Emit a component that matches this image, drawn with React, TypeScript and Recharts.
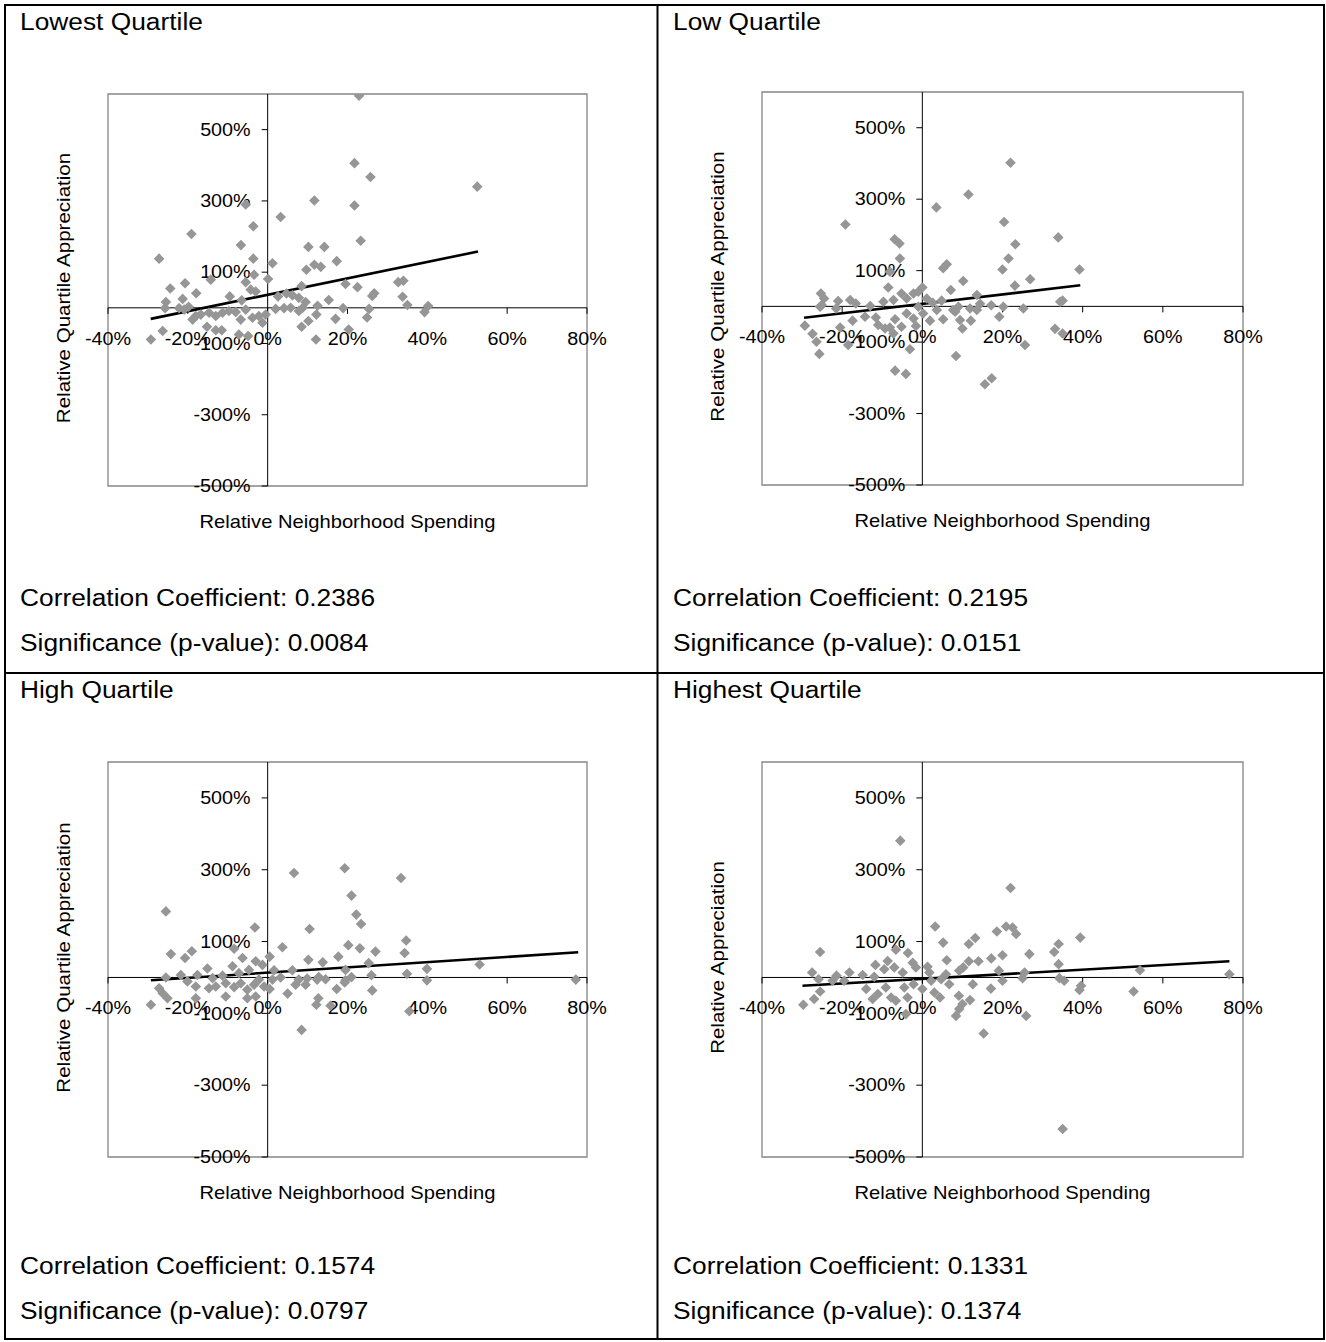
import React from "react";
import { ScatterChart, Scatter, XAxis, YAxis, ReferenceArea, ReferenceLine, ReferenceDot } from "recharts";

const FONT = '"Liberation Sans", Arial, sans-serif';

// axis ticks (percent)
const xTicks = [-40, -20, 0, 20, 40, 60, 80];
const yTicks = [-500, -300, -100, 100, 300, 500];

const titles = ["Lowest Quartile", "Low Quartile", "High Quartile", "Highest Quartile"];
const yTitles = ["Relative Quartile Appreciation", "Relative Quartile Appreciation", "Relative Quartile Appreciation", "Relative Appreciation"];
const corrs = ["0.2386", "0.2195", "0.1574", "0.1331"];
const pvals = ["0.0084", "0.0151", "0.0797", "0.1374"];

// [relative spending %, relative appreciation %]
const lowestPts: [number, number][] = [
  [22.9, 595], [21.75, 406], [25.75, 367], [52.5, 340], [11.7, 301], [21.75, 287], [-5.5, 290], [3.25, 255], [-3.6, 229],
  [-19.1, 207], [23.3, 188], [-6.7, 176], [10.2, 171], [14.2, 171], [-27.2, 138], [-3.6, 138], [17.3, 131], [1.2, 125],
  [11.7, 121], [13.3, 115], [9.7, 107], [-3.4, 93], [-14.25, 79], [0.1, 81], [-5.5, 72], [-20.7, 69], [-24.4, 54],
  [32.7, 72], [34, 76], [19.5, 67], [22.5, 58], [8.5, 61], [-4.25, 51], [-3, 46], [-17.9, 41], [26.7, 41], [26.2, 33],
  [33.8, 31], [-21.3, 25], [-25.5, 16], [-9.5, 32], [-6.5, 21], [2.6, 32], [4.7, 40], [6.2, 35], [7.8, 28], [15.3, 22],
  [12.5, 6], [9.5, 16], [35, 8], [40.2, 5], [39.3, -12], [18.9, -1], [25.4, -3], [-25.7, -1], [-19.8, 3], [-22.2, -1],
  [-18, -23], [-16.75, -19], [-14.7, -14], [-13, -23], [-11.3, -14], [-9.7, -9], [-8, -12], [-5.5, -5], [-3.8, -28],
  [-2.2, -23], [-1.3, -42], [-0.5, -19], [2, -3], [4.1, -1], [5.75, 0], [7.8, -9], [8.8, 0], [10.2, -37], [12.2, -19],
  [8.5, -53], [17, -31], [24.9, -27], [20.3, -61], [-15.2, -53], [-13, -63], [-11.5, -63], [-26.3, -65], [-29.25, -89],
  [12.1, -89], [-7.2, -75], [-4.9, -79], [-20.9, -5], [-18.8, -33], [-6.75, -33],
];
const lowPts: [number, number][] = [
  [22, 402], [11.5, 313], [3.5, 277], [-19.2, 229], [20.4, 236], [33.9, 193], [-6.9, 188], [-5.7, 176], [23.2, 174],
  [-5.6, 134], [21.5, 134], [6.1, 118], [5.2, 107], [39.2, 103], [20, 103], [-8.1, 97], [10.2, 71], [26.9, 76], [23.1, 58],
  [-8.5, 53], [7.1, 46], [-25.3, 36], [-24.5, 22], [-21, 15], [-18, 18], [-16.6, 8], [-13, 1], [-9.7, 13], [-7.2, 18],
  [-5.2, 36], [-3.9, 22], [-2.2, 36], [-1, 41], [0, 53], [1.1, 22], [2.6, 10], [4.8, 16], [7.7, -10], [9, -1], [11.9, -6],
  [13.6, 32], [14.4, 7], [17.2, 3], [20.2, -1], [25.2, -6], [34.4, 13], [35, 16], [-25.5, -1], [-21.5, -6], [-29.3, -54],
  [-27.4, -77], [-26.4, -99], [-25.7, -133], [-20.5, -59], [-18.5, -108], [-17.4, -40], [-14.3, -29], [-11.6, -31],
  [-11, -52], [-9.3, -62], [-8.1, -59], [-6.8, -36], [-5.2, -57], [-7.2, -76], [-3.9, -20], [-2.2, -34], [-1.6, -55],
  [-3.1, -120], [-6.8, -180], [-4.1, -189], [0.2, -20], [1.9, -40], [5.2, -36], [8.2, -15], [9.4, -38], [10, -62],
  [12.1, -40], [8.4, -139], [15.6, -218], [17.3, -201], [19.2, -29], [25.6, -108], [33.1, -63], [35, -76], [-25.1, 4],
  [3.6, -10], [13.6, -10], [-1, -1],
];
const highPts: [number, number][] = [
  [6.6, 291], [19.3, 304], [33.4, 277], [21, 228], [-25.5, 184], [22.2, 175], [23.4, 149], [-3.2, 139], [10.5, 135],
  [34.7, 103], [-8.4, 80], [3.7, 84], [20.2, 90], [23.1, 81], [27, 72], [34.3, 68], [-24.25, 65], [-19, 73], [-20.7, 54],
  [-6.3, 54], [0.5, 58], [10.2, 49], [17.7, 58], [13.8, 42], [25.3, 40], [53.1, 36], [39.9, 24], [-3, 45], [-8.8, 31],
  [-15.1, 25], [-21.75, 7], [-17.6, 7], [-25.5, 0], [-13.8, -2], [-11.3, 5], [-7.2, 12], [-4.7, 21], [-1.3, 35],
  [1.6, 20], [6.2, 20], [3.25, 0], [7.8, -6], [9.9, -3], [12.8, 1], [14.5, -5], [19.5, 21], [21, 1], [19.3, -14], [26, 6],
  [34.9, 10], [39.9, -8], [77.2, -6], [-20.1, -11], [-18, -25], [-14.7, -30], [-13, -25], [-10.5, -16], [-8.4, -27],
  [-6.75, -16], [-5.1, -34], [-3.4, -20], [-2.2, -6], [-0.9, -25], [-27.2, -30], [-26.3, -44], [-25.1, -58],
  [-29.25, -76], [-18, -58], [-10.5, -53], [-5.1, -58], [-3, -53], [0.5, -32], [5, -45], [7, -20], [9.5, -20],
  [12.7, -58], [12.2, -76], [15.75, -79], [17.3, -32], [26.2, -36], [35.5, -94], [8.5, -146], [19.5, -8], [1.2, -6],
  [12.4, -6],
];
const highestPts: [number, number][] = [
  [-5.5, 381], [22, 249], [3.2, 142], [18.6, 128], [20.9, 142], [22.5, 139], [23.4, 121], [39.4, 111], [13.2, 110],
  [11.6, 93], [34, 93], [5.2, 97], [-6.6, 77], [-25.5, 71], [-3.6, 68], [26.7, 65], [32.9, 71], [20, 62], [17.2, 53],
  [6.1, 48], [-8.65, 46], [-11.7, 35], [-2.4, 41], [11.6, 45], [14, 45], [34, 37], [54.3, 20], [-27.5, 14], [-25.9, -5],
  [-21.4, 5], [-18.2, 14], [-14.9, 7], [-12, 2], [-9.5, 23], [-7, 28], [-4.9, 14], [-1.6, 28], [1.3, 30], [1.75, 14],
  [5.9, 9], [9.2, 19], [10.2, 28], [19.1, 19], [25.5, 14], [25, -2], [34.2, -2], [35.4, -9], [20, -9], [4.7, -5],
  [6.7, -19], [12.6, -19], [76.6, 9], [-19.5, -9], [-14, -32], [-12.4, -60], [-11.1, -46], [-9.1, -28], [-7.8, -56],
  [-6.6, -65], [-4.5, -28], [-3.7, -56], [-4.1, -102], [-2.2, -19], [0, -32], [2.2, -9], [3, -42], [4.4, -56], [9.1, -51],
  [10, -74], [9.2, -88], [8.4, -107], [11.9, -63], [17.1, -31], [15.3, -156], [25.9, -107], [39.6, -23], [39.2, -35],
  [52.7, -39], [35, -422], [-29.7, -76], [-27, -60], [-25.5, -39], [-22.4, -9],
];

// linear trend line end points
const lowestTrend: [number, number][] = [[-29.3, -31], [52.7, 158]];
const lowTrend: [number, number][] = [[-29.5, -32], [39.4, 59]];
const highTrend: [number, number][] = [[-29.25, -8], [77.8, 70]];
const highestTrend: [number, number][] = [[-29.9, -23], [76.6, 45]];

const allPts = [lowestPts, lowPts, highPts, highestPts];
const allTrends = [lowestTrend, lowTrend, highTrend, highestTrend];

// layout: table cell origins and plot boxes
const cells = [[0, 0], [653, 0], [0, 668], [653, 668]];
const boxes = [
  { x: 108, y: 94, w: 479, h: 392 },
  { x: 762, y: 92, w: 481, h: 393 },
  { x: 108, y: 762, w: 479, h: 395 },
  { x: 762, y: 762, w: 481, h: 395 },
];

const SX = 1.13;

function Diamond(props: any) {
  const { cx, cy } = props;
  const r = 5.3;
  return <path d={`M${cx},${cy - r}L${cx + r},${cy}L${cx},${cy + r}L${cx - r},${cy}Z`} fill="#969696" />;
}

function Txt({ x, y, size, children, anchor = "start", sx = SX }: any) {
  return (
    <g transform={`translate(${x},${y}) scale(${sx},1)`}>
      <text x={0} y={0} fontFamily={FONT} fontSize={size} fill="#000" textAnchor={anchor}>
        {children}
      </text>
    </g>
  );
}

function Panel({ i }: { i: number }) {
  const b = boxes[i];
  const M = 50;
  const data = allPts[i].map(([x, y]) => ({ x, y }));
  const tr = allTrends[i];
  return (
    <div style={{ position: "absolute", left: b.x - M, top: b.y - M }}>
      <ScatterChart width={b.w + 2 * M} height={b.h + 2 * M} margin={{ top: M, right: M, bottom: M, left: M }} style={{ overflow: "visible" }}>
        <XAxis type="number" dataKey="x" domain={[-40, 80]} hide allowDataOverflow />
        <YAxis type="number" dataKey="y" domain={[-500, 600]} hide allowDataOverflow />
        <ReferenceArea x1={-40} x2={80} y1={-500} y2={600} fill="none" stroke="#868686" strokeWidth={1.3} ifOverflow="visible" />
        <ReferenceLine y={0} stroke="#000" strokeWidth={1} ifOverflow="visible" />
        <ReferenceLine x={0} stroke="#000" strokeWidth={1} ifOverflow="visible" />
        {xTicks.map((t) => (
          <ReferenceDot
            key={"x" + t}
            x={t}
            y={0}
            r={0}
            ifOverflow="visible"
            shape={(s: any) => (
              <g>
                <line x1={s.cx} y1={s.cy} x2={s.cx} y2={s.cy + 6} stroke="#000" />
                <Txt x={s.cx} y={s.cy + 37} size={17.5} anchor="middle">{`${t}%`}</Txt>
              </g>
            )}
          />
        ))}
        {yTicks.map((t) => (
          <ReferenceDot
            key={"y" + t}
            x={0}
            y={t}
            r={0}
            ifOverflow="visible"
            shape={(s: any) => (
              <g>
                <line x1={s.cx - 6} y1={s.cy} x2={s.cx} y2={s.cy} stroke="#000" />
                <Txt x={s.cx - 17} y={s.cy + 6.3} size={17.5} anchor="end">{`${t}%`}</Txt>
              </g>
            )}
          />
        ))}
        <Scatter data={data} shape={Diamond} isAnimationActive={false} />
        <ReferenceLine
          segment={[{ x: tr[0][0], y: tr[0][1] }, { x: tr[1][0], y: tr[1][1] }]}
          stroke="#000"
          strokeWidth={2.6}
          ifOverflow="visible"
        />
      </ScatterChart>
    </div>
  );
}

export default function App() {
  return (
    <div style={{ position: "absolute", left: 0, top: 0, width: 1326, height: 1342, background: "#fff" }}>
      <svg width={1326} height={1342} style={{ position: "absolute", left: 0, top: 0 }}>
        {/* table grid */}
        <rect x={5} y={5} width={1319} height={1334} fill="none" stroke="#000" strokeWidth={2} />
        <line x1={657.5} y1={5} x2={657.5} y2={1339} stroke="#000" strokeWidth={2} />
        <line x1={5} y1={673} x2={1324} y2={673} stroke="#000" strokeWidth={2} />
        {cells.map(([cx, cy], i) => {
          const b = boxes[i];
          return (
            <g key={i}>
              <Txt x={cx + 20} y={cy + 30} size={23.3}>{titles[i]}</Txt>
              <Txt x={cx + 20} y={cy + 606} size={23.3}>{`Correlation Coefficient: ${corrs[i]}`}</Txt>
              <Txt x={cx + 20} y={cy + 651} size={23.3}>{`Significance (p-value): ${pvals[i]}`}</Txt>
              <Txt x={b.x + b.w / 2} y={b.y + b.h + 41.5} size={18} anchor="middle" sx={1.12}>
                Relative Neighborhood Spending
              </Txt>
              <g transform={`translate(${b.x - 38},${b.y + b.h / 2 - 2}) rotate(-90) scale(1.14,1)`}>
                <text x={0} y={0} fontFamily={FONT} fontSize={18} textAnchor="middle" fill="#000">
                  {yTitles[i]}
                </text>
              </g>
            </g>
          );
        })}
      </svg>
      {[0, 1, 2, 3].map((i) => (
        <Panel key={i} i={i} />
      ))}
    </div>
  );
}
